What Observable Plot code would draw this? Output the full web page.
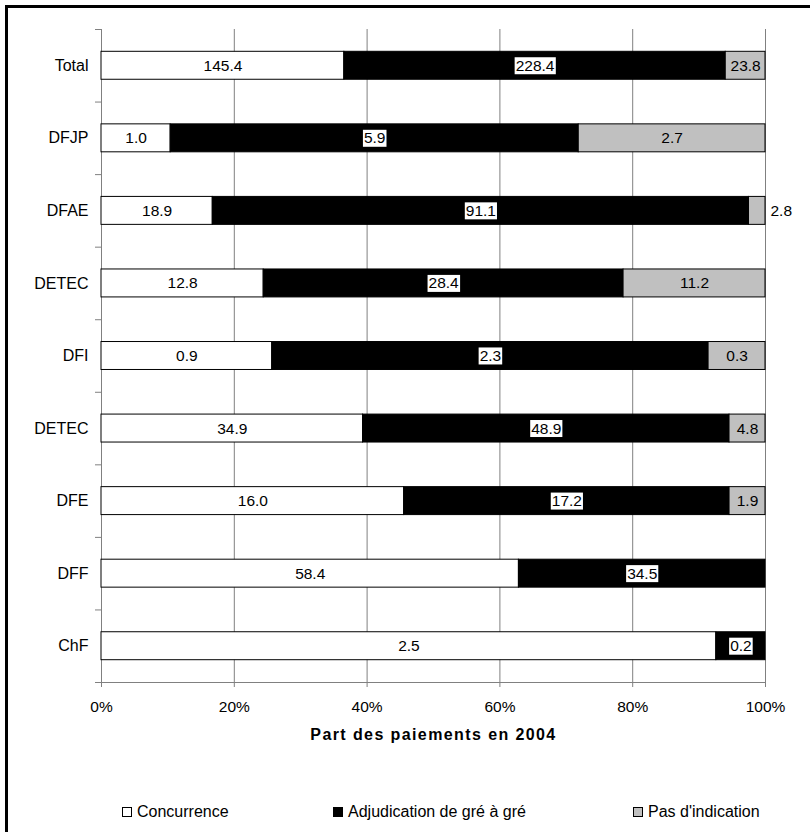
<!DOCTYPE html>
<html><head><meta charset="utf-8">
<script src="https://cdn.jsdelivr.net/npm/d3@7"></script>
<script src="https://cdn.jsdelivr.net/npm/@observablehq/plot@0.6"></script>
<style>
body{margin:0;background:#fff;font-family:"Liberation Sans",Arial,sans-serif;}
#wrap{position:relative;width:810px;height:832px;overflow:hidden;background:#fff;}
#chart{position:absolute;left:0;top:0;}
#frame{position:absolute;left:5px;top:5px;width:820px;height:840px;border-top:3px solid #000;border-left:3px solid #000;pointer-events:none;}
#legend{position:absolute;top:802px;left:0;width:810px;height:20px;font-size:16px;color:#000;}
.item{position:absolute;top:0;height:20px;display:flex;align-items:center;white-space:nowrap;}
.sw{width:10px;height:10px;border:1px solid #000;margin-right:5px;box-sizing:border-box;}
g[font-weight="bold"] text{letter-spacing:1.4px;}
</style></head><body>
<div id="wrap"><div id="chart"></div><div id="legend"></div><div id="frame"></div></div>
<script>
const categories = ["Total","DFJP","DFAE","DETEC","DFI","DETEC","DFE","DFF","ChF"];
const concurrence = [145.4,1.0,18.9,12.8,0.9,34.9,16.0,58.4,2.5];
const adjudication = [228.4,5.9,91.1,28.4,2.3,48.9,17.2,34.5,0.2];
const pasIndication = [23.8,2.7,2.8,11.2,0.3,4.8,1.9,null,null];
const seriesNames = ["Concurrence","Adjudication de gré à gré","Pas d'indication"];
const seriesColors = ["#ffffff","#000000","#c0c0c0"];
const xTicks = [0,20,40,60,80,100];
const xTitle = "Part des paiements en 2004";

const seriesValues = [concurrence, adjudication, pasIndication];
const segments = [];
categories.forEach((c, i) => {
  const vals = seriesValues.map(a => a[i] ?? 0);
  const total = d3.sum(vals);
  let cum = 0;
  vals.forEach((v, s) => {
    if (v > 0) {
      const x1 = cum / total * 100;
      cum += v;
      const x2 = cum / total * 100;
      segments.push({i, s, series: seriesNames[s], v, x1, x2, xm: (x1 + x2) / 2,
        y1: i, y2: i + 1, ym: i + 0.5, label: v.toFixed(1), share: v / total * 100});
    }
  });
});

const FS = 15.5;
const BOXED = "#010101";
const plot = Plot.plot({
  width: 810,
  height: 770,
  marginTop: 29,
  marginBottom: 88,
  marginLeft: 101,
  marginRight: 45,
  style: {fontFamily: "'Liberation Sans', Arial, sans-serif", fontSize: "16px", color: "#000", background: "#fff", overflow: "visible"},
  x: {domain: [0, 100]},
  y: {domain: [0, categories.length], reverse: true},
  color: {domain: seriesNames, range: seriesColors},
  marks: [
    Plot.ruleX(xTicks, {y1: 0, y2: categories.length, stroke: "#808080", strokeWidth: 1}),
    Plot.ruleY([categories.length], {x1: 0, x2: 100, stroke: "#808080"}),
    Plot.rect(segments, {x1: "x1", x2: "x2", y1: "y1", y2: "y2", fill: "series",
      stroke: "#000", strokeWidth: 1, insetTop: 22.3, insetBottom: 22.3}),
    Plot.axisY(categories.map((c, i) => i + 0.5), {tickSize: 0, tickPadding: 13,
      tickFormat: d => categories[Math.floor(d)], fontSize: 16, label: null}),
    Plot.axisY(d3.range(categories.length + 1), {tickSize: 6, tickFormat: () => "", stroke: "#808080", label: null}),
    Plot.axisX(xTicks, {tickSize: 5, tickPadding: 13, tickFormat: d => d + "%", stroke: "#808080", fontSize: FS, label: null}),
    Plot.text(segments.filter(d => d.s === 0), {x: "xm", y: "ym", text: "label", fill: "#000", fontSize: FS}),
    Plot.text(segments.filter(d => d.s === 1), {x: "xm", y: "ym", text: "label", fill: BOXED, fontSize: FS}),
    Plot.text(segments.filter(d => d.s === 2 && d.share >= 4), {x: "xm", y: "ym", text: "label", fill: "#000", fontSize: FS}),
    Plot.text(segments.filter(d => d.s === 2 && d.share < 4), {x: "x2", y: "ym", text: "label", fill: "#000", fontSize: FS, textAnchor: "start", dx: 5}),
    Plot.text([xTitle], {frameAnchor: "bottom", dy: 57, fontWeight: "bold", fontSize: 16, fill: "#000"})
  ]
});
document.getElementById("chart").appendChild(plot);

// white boxes behind labels on black segments
plot.querySelectorAll(`g[fill="${BOXED}"] text`).forEach(t => {
  const b = t.getBBox();
  const r = document.createElementNS("http://www.w3.org/2000/svg", "rect");
  r.setAttribute("x", b.x - 1);
  r.setAttribute("y", b.y + 0.5);
  r.setAttribute("width", b.width + 2);
  r.setAttribute("height", b.height);
  r.setAttribute("fill", "#fff");
  if (t.getAttribute("transform")) r.setAttribute("transform", t.getAttribute("transform"));
  t.parentNode.insertBefore(r, t);
});

// legend
const legendLeft = [122, 333, 633];
const legend = document.getElementById("legend");
seriesNames.forEach((n, k) => {
  const item = document.createElement("div");
  item.className = "item";
  item.style.left = legendLeft[k] + "px";
  const sw = document.createElement("span");
  sw.className = "sw";
  sw.style.background = seriesColors[k];
  const lab = document.createElement("span");
  lab.textContent = n;
  item.appendChild(sw);
  item.appendChild(lab);
  legend.appendChild(item);
});
</script>
</body></html>
